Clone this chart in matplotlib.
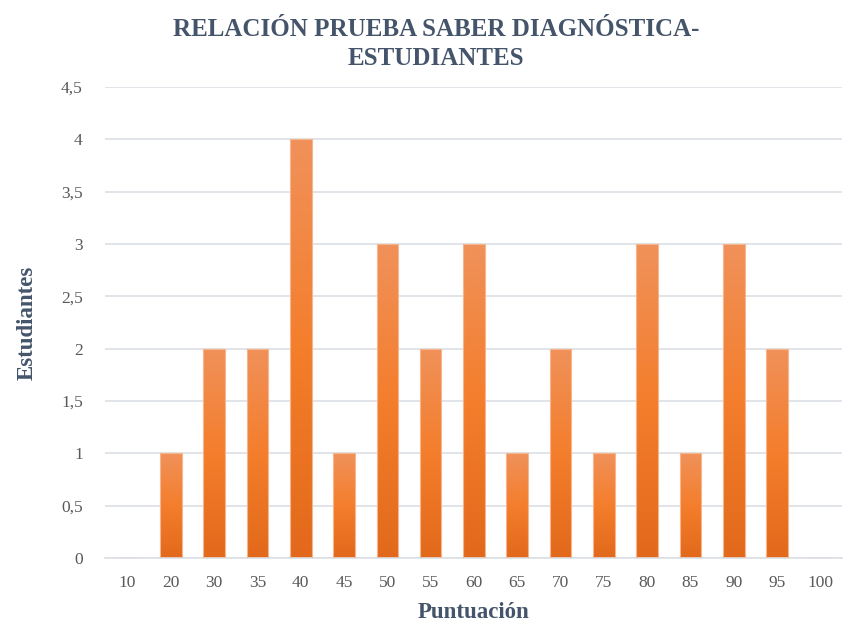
import numpy as np
import matplotlib.pyplot as plt
from matplotlib.colors import LinearSegmentedColormap
from matplotlib.patches import Rectangle

puntuacion = ['10', '20', '30', '35', '40', '45', '50', '55', '60', '65',
              '70', '75', '80', '85', '90', '95', '100']
estudiantes = [0, 1, 2, 2, 4, 1, 3, 2, 3, 1, 2, 1, 3, 1, 3, 2, 0]

yticks = [0, 0.5, 1, 1.5, 2, 2.5, 3, 3.5, 4, 4.5]
ytick_labels = [str(t).replace('.', ',') if t % 1 else str(int(t)) for t in yticks]

text_col = '#44546A'
tick_col = '#595959'
plt.rcParams['font.family'] = ['Liberation Serif', 'DejaVu Serif']

fig = plt.figure(figsize=(8.44, 6.22), dpi=100)
ax = fig.add_axes([105/844, 1-558/622, 737/844, (558-87)/622])

# gradient: light at top -> dark at bottom
cmap = LinearSegmentedColormap.from_list('og', ['#E2691B', '#F47E2C', '#F0915A'])
grad = np.linspace(0, 1, 256).reshape(-1, 1)

x = np.arange(len(puntuacion))
w = 0.5
bars = ax.bar(x, estudiantes, width=w, color='none', edgecolor='#F6B58C', linewidth=0.8, zorder=3)
for b, v in zip(bars, estudiantes):
    if v <= 0:
        continue
    x0 = b.get_x()
    im = ax.imshow(grad, cmap=cmap, aspect='auto', origin='lower',
                   extent=[x0, x0 + w, 0, v], zorder=2)
    im.set_clip_path(Rectangle((x0, 0), w, v, transform=ax.transData))

ax.set_xlim(-0.52, 16.5)
ax.set_ylim(0, 4.5)
ax.set_xticks(x)
ax.set_xticklabels(puntuacion)
ax.set_yticks(yticks)
ax.set_yticklabels(ytick_labels)
ax.tick_params(length=0, labelsize=12.5, colors=tick_col, pad=12)
ax.tick_params(axis='y', pad=16)
ax.grid(axis='y', color='#DCDFE4', linewidth=1.2, zorder=0)
for s in ['top', 'right', 'left']:
    ax.spines[s].set_visible(False)
ax.spines['bottom'].set_color('#DCDFE4')
ax.spines['bottom'].set_linewidth(1.2)

ax.set_xlabel('Puntuación', fontsize=16.5, fontweight='bold', color=text_col, labelpad=8)
ax.set_ylabel('Estudiantes', fontsize=16.5, fontweight='bold', color=text_col, labelpad=17)

fig.text(436/844, 1-44/622, 'RELACIÓN PRUEBA SABER DIAGNÓSTICA-\nESTUDIANTES', ha='center', va='center',
         fontsize=18, fontweight='bold', color=text_col, linespacing=1.35)

fig.savefig('out.png', dpi=100)
